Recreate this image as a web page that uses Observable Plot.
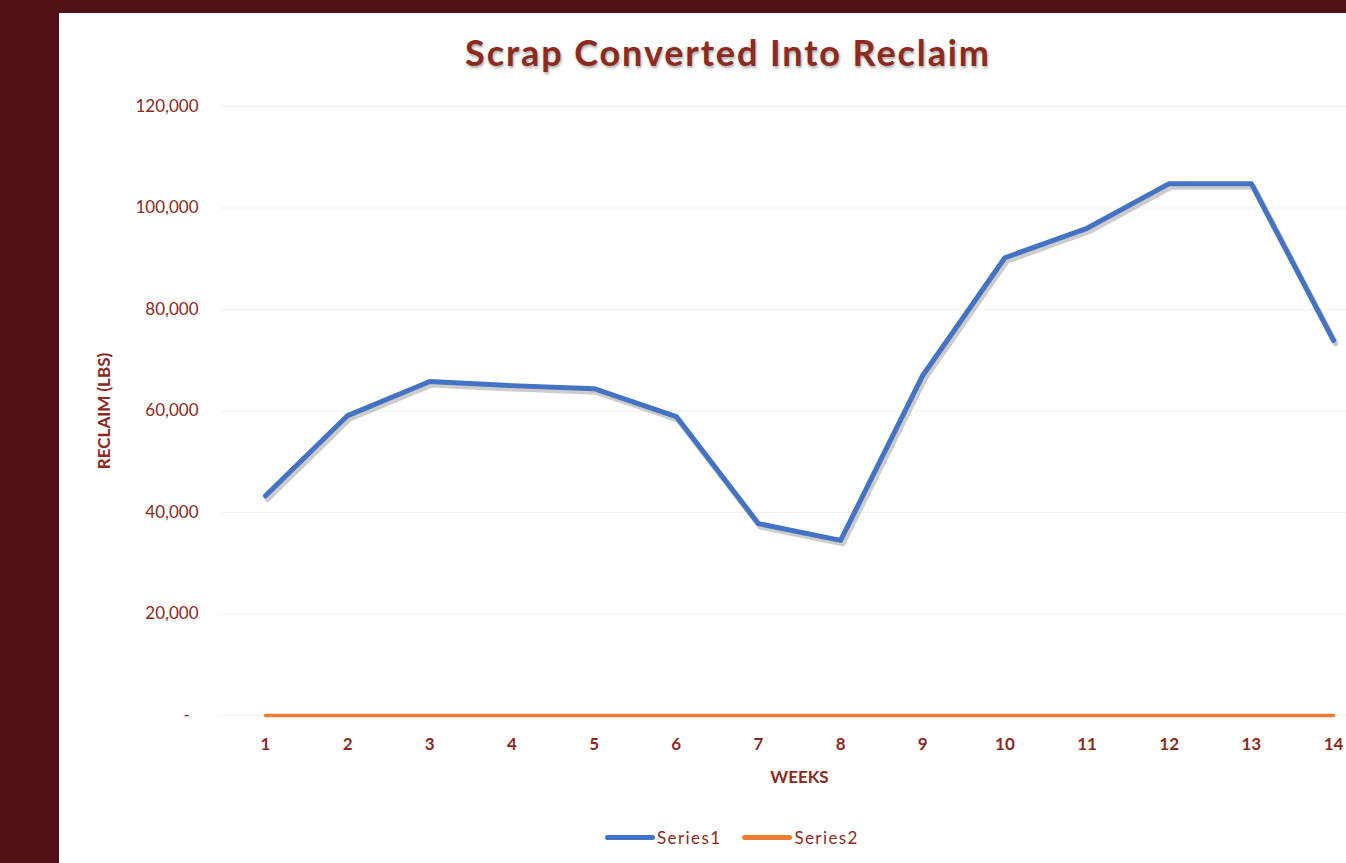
<!DOCTYPE html>
<html>
<head>
<meta charset="utf-8">
<script src="https://cdn.jsdelivr.net/npm/d3@7"></script>
<script src="https://cdn.jsdelivr.net/npm/@observablehq/plot@0.6"></script>
<style>
  html, body { margin: 0; padding: 0; }
  body { width: 1346px; height: 863px; background: #4f1116; overflow: hidden; position: relative; font-family: Lato, "Open Sans", sans-serif; }
  #panel { position: absolute; left: 59px; top: 13px; width: 1287px; height: 850px; background: #fff; overflow: hidden; }
  #title { position: absolute; left: 0; width: 1338px; top: 17px; text-align: center; font-size: 36px; font-weight: 700; color: #8c2a1e; text-shadow: 1px 2px 3px rgba(0,0,0,0.35); letter-spacing: 1.9px; }
  #chart { position: absolute; left: 0; top: 77px; }
  #legend { position: absolute; top: 814px; left: 546px; display: flex; align-items: center; font-size: 17px; letter-spacing: 1.4px; color: #8c2a1e; }
  .sw { display: inline-block; width: 50px; height: 5px; border-radius: 3px; margin-right: 2px; }
  .item { display: flex; align-items: center; margin-right: 21px; }
</style>
</head>
<body>
<div id="panel">
  <div id="title">Scrap Converted Into Reclaim</div>
  <div id="chart"></div>
  <div id="legend">
    <div class="item"><span class="sw" style="background:#4472c4"></span>Series1</div>
    <div class="item"><span class="sw" style="background:#ed7d31"></span>Series2</div>
  </div>
</div>
<script>
const weeks = [1,2,3,4,5,6,7,8,9,10,11,12,13,14];
const series1 = [43300, 59100, 65800, 65000, 64400, 58900, 37800, 34500, 67000, 90200, 96000, 104800, 104800, 73900];
const series2 = [0, 0, 0, 0, 0, 0, 0, 0, 0, 0, 0, 0, 0, 0];
const yTicks = [0, 20000, 40000, 60000, 80000, 100000, 120000];
const seriesNames = ["Series1", "Series2"];

const data = [];
weeks.forEach((w, i) => {
  data.push({week: w, value: series1[i], series: seriesNames[0]});
  data.push({week: w, value: series2[i], series: seriesNames[1]});
});
const s1 = data.filter(d => d.series === "Series1");
const s2 = data.filter(d => d.series === "Series2");

const maroon = "#8c2a1e";
const fmt = v => v === 0 ? "-\u00a0\u00a0" : d3.format(",")(v);

const chart = Plot.plot({
  width: 1287,
  height: 710,
  marginLeft: 206,
  marginRight: 13,
  marginTop: 16,
  marginBottom: 85,
  style: { fontFamily: "Lato, 'Open Sans', sans-serif", background: "transparent", color: maroon },
  x: { domain: [1, 14], ticks: weeks, tickFormat: d => String(d) },
  y: { domain: [0, 120000], ticks: yTicks },
  marks: [
    Plot.ruleY(yTicks, { x1: 0.45, x2: 14.2, stroke: "#f1f1f1", strokeWidth: 1 }),
    Plot.axisY(yTicks, { tickSize: 0, tickPadding: 67, tickFormat: fmt, fontSize: 17, fill: maroon, label: null }),
    Plot.axisX(weeks, { tickSize: 0, tickPadding: 22, fontSize: 17, fontWeight: 700, fill: maroon, label: null }),
    Plot.text(["WEEKS"], { frameAnchor: "bottom", dy: 67, fontSize: 17, fontWeight: 700, fill: maroon, style: "letter-spacing:0.5px" }),
    Plot.text(["RECLAIM (LBS)"], { frameAnchor: "left", textAnchor: "middle", dx: -161, rotate: -90, fontSize: 17, fontWeight: 700, fill: maroon, style: "letter-spacing:1px" }),
    Plot.line(s2, { x: "week", y: "value", stroke: "#ed7d31", strokeWidth: 3.5, strokeLinecap: "round" }),
    Plot.line(s1, { x: "week", y: "value", stroke: "#000", strokeOpacity: 0.2, strokeWidth: 6, dx: 2, dy: 3, strokeLinejoin: "round" }),
    Plot.line(s1, { x: "week", y: "value", stroke: "#4472c4", strokeWidth: 5, strokeLinejoin: "round", strokeLinecap: "round" })
  ]
});
document.getElementById("chart").appendChild(chart);
</script>
</body>
</html>
